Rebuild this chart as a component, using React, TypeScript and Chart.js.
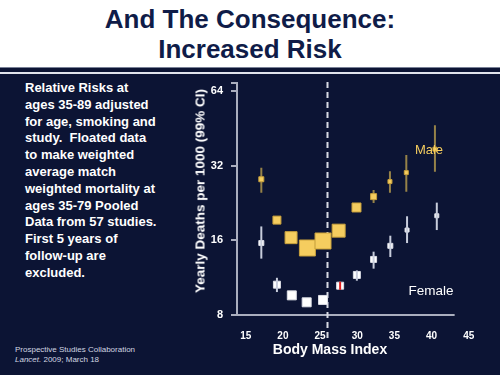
import React, { useEffect, useRef } from "react";
import { Chart, registerables } from "chart.js";

Chart.register(...registerables);

// ---- data ----
const maleBmi = [17.1, 19.2, 21.1, 23.3, 25.4, 27.5, 29.9, 32.2, 34.4, 36.6, 40.45];
const maleDeaths = [28.2, 19.3, 16.4, 14.9, 15.9, 17.5, 21.7, 24.0, 27.6, 30.0, 37.3];
const maleLow = [24.9, null, null, null, null, null, null, 22.6, 24.9, 25.1, 30.2];
const maleHigh = [31.4, null, null, null, null, null, null, 25.5, 30.4, 35.3, 46.6];
const maleSize = [5, 8, 12, 16, 16, 13, 9, 6, 4, 4, 4];

const femaleBmi = [17.1, 19.2, 21.2, 23.2, 25.4, 27.7, 29.95, 32.2, 34.45, 36.7, 40.7];
const femaleDeaths = [15.6, 10.6, 9.6, 9.0, 9.2, 10.5, 11.6, 13.4, 15.2, 17.6, 20.1];
const femaleLow = [13.5, 9.9, null, null, null, 10.1, 11.0, 12.3, 13.7, 15.6, 17.6];
const femaleHigh = [18.2, 11.3, null, null, null, 10.9, 12.1, 14.4, 16.7, 20.0, 22.7];
const femaleSize = [5, 7, 9, 9, 9, 7, 7, 6, 5, 4, 4];
const femaleBarRed = [false, false, false, false, false, true, false, false, false, false, false];

const xTicks = [15, 20, 25, 30, 35, 40, 45];
const yTicks = [8, 16, 32, 64];
const xMin = 13.83;
const xMax = 45.3;
const xAxisEnd = 43.1;
const yMin = 8;
const yMax = 68.9;
const cutoffBmi = 25.9;

const NAVY = "#0c1434";
const GOLD = "rgb(245,205,95)";
const GOLD_BAR = "rgb(150,130,72)";
const WHITE_BAR = "rgb(200,205,220)";
const AXIS = "rgb(170,174,190)";

function errorPoints(xs: number[], lo: (number | null)[], hi: (number | null)[]) {
  const pts: { x: number; y: number | null }[] = [];
  xs.forEach((x, i) => {
    if (lo[i] == null || hi[i] == null) return;
    pts.push({ x, y: lo[i] as number }, { x, y: hi[i] as number }, { x, y: null });
  });
  return pts;
}

function barIndexList(lo: (number | null)[]) {
  const idx: number[] = [];
  lo.forEach((v, i) => {
    if (v != null) idx.push(i);
  });
  return idx;
}

const refLines = {
  id: "refLines",
  beforeDatasetsDraw(chart: any) {
    const { ctx, scales } = chart;
    const x = scales.x;
    const y = scales.y;
    ctx.save();
    // x axis line
    ctx.strokeStyle = AXIS;
    ctx.lineWidth = 2;
    ctx.beginPath();
    ctx.moveTo(x.getPixelForValue(xMin), y.getPixelForValue(yMin));
    ctx.lineTo(x.getPixelForValue(xAxisEnd), y.getPixelForValue(yMin));
    ctx.stroke();
    // dashed cutoff line
    const cx = Math.round(x.getPixelForValue(cutoffBmi)) + 0.5;
    ctx.strokeStyle = "rgb(215,218,228)";
    ctx.lineWidth = 2;
    ctx.setLineDash([6, 4]);
    ctx.beginPath();
    ctx.moveTo(cx, y.getPixelForValue(yMax) - 1);
    ctx.lineTo(cx, y.getPixelForValue(yMin) + 26);
    ctx.stroke();
    ctx.restore();
  },
};

export default function App() {
  const ref = useRef<HTMLCanvasElement | null>(null);

  useEffect(() => {
    document.body.style.margin = "0";
    if (!ref.current) return;
    const femaleBarIdx = barIndexList(femaleLow);
    const chart = new Chart(ref.current, {
      type: "scatter",
      data: {
        datasets: [
          {
            type: "line",
            data: errorPoints(maleBmi, maleLow, maleHigh),
            borderColor: GOLD_BAR,
            borderWidth: 2,
            pointRadius: 0,
            spanGaps: false,
            order: 3,
          } as any,
          {
            type: "line",
            data: errorPoints(femaleBmi, femaleLow, femaleHigh),
            borderColor: WHITE_BAR,
            borderWidth: 2,
            pointRadius: 0,
            spanGaps: false,
            order: 0,
            segment: {
              borderColor: (c: any) => {
                const bi = femaleBarIdx[Math.floor(c.p0DataIndex / 3)];
                return femaleBarRed[bi] ? "rgb(225,30,30)" : WHITE_BAR;
              },
            },
          } as any,
          {
            data: maleBmi.map((x, i) => ({ x, y: maleDeaths[i] })),
            pointStyle: "rect",
            pointRadius: maleSize.map((s) => s / Math.SQRT2),
            backgroundColor: GOLD,
            borderColor: "rgb(200,160,60)",
            borderWidth: 1,
            order: 1,
          },
          {
            data: femaleBmi.map((x, i) => ({ x, y: femaleDeaths[i] })),
            pointStyle: "rect",
            pointRadius: femaleSize.map((s) => s / Math.SQRT2),
            backgroundColor: "#ffffff",
            borderColor: "rgb(220,222,230)",
            borderWidth: 1,
            order: 1,
          },
        ],
      },
      options: {
        animation: false,
        responsive: false,
        maintainAspectRatio: false,
        layout: { padding: { left: 0, top: 83, right: 29, bottom: 0 } },
        plugins: { legend: { display: false }, tooltip: { enabled: false } },
        scales: {
          x: {
            type: "linear",
            min: xMin,
            max: xMax,
            afterFit: (s: any) => {
              s.height = 60;
            },
            afterBuildTicks: (s: any) => {
              s.ticks = xTicks.map((v) => ({ value: v }));
            },
            grid: { display: false },
            border: { display: false },
            ticks: {
              color: "#ffffff",
              padding: 7,
              maxRotation: 0,
              autoSkip: false,
              font: { family: "Arial, Liberation Sans", weight: "bold", size: 10 },
            },
          },
          y: {
            type: "logarithmic",
            min: yMin,
            max: yMax,
            afterFit: (s: any) => {
              s.width = 237;
            },
            afterBuildTicks: (s: any) => {
              s.ticks = [...yTicks, yMax].map((v) => ({ value: v }));
            },
            grid: { drawOnChartArea: false, color: AXIS, tickLength: 6, lineWidth: 2 },
            border: { color: AXIS, width: 2 },
            ticks: {
              color: "#ffffff",
              padding: 8,
              autoSkip: false,
              font: { family: "Arial, Liberation Sans", weight: "bold", size: 11 },
              callback: (v: any) => (yTicks.includes(v) ? String(v) : ""),
            },
          },
        },
      },
      plugins: [refLines],
    } as any);
    return () => chart.destroy();
  }, []);

  const font = "Arial, 'Liberation Sans', sans-serif";
  const abs = (o: React.CSSProperties): React.CSSProperties => ({ position: "absolute", ...o });

  return (
    <div style={{ position: "relative", width: 500, height: 375, overflow: "hidden", background: NAVY, fontFamily: font }}>
      <div style={abs({ left: 0, top: 0, width: 500, height: 67, background: "#ffffff" })} />
      <div style={abs({ left: 0, top: 67, width: 500, height: 1, background: "rgb(120,128,150)" })} />
      <div style={abs({ left: 0, top: 72, width: 500, height: 2, background: "rgb(225,228,236)" })} />
      <div
        style={abs({
          left: 0,
          top: 4,
          width: 500,
          textAlign: "center",
          color: "#0f1c48",
          fontWeight: "bold",
          fontSize: 26,
          lineHeight: "30px",
        })}
      >
        And The Consequence:
        <br />
        Increased Risk
      </div>
      <div
        style={abs({
          left: 25,
          top: 80,
          width: 170,
          color: "#ffffff",
          fontWeight: "bold",
          fontSize: 13,
          lineHeight: "16.8px",
          whiteSpace: "pre",
        })}
      >
        {"Relative Risks at\nages 35-89 adjusted\nfor age, smoking and\nstudy.  Floated data\nto make weighted\naverage match\nweighted mortality at\nages 35-79 Pooled\nData from 57 studies.\nFirst 5 years of\nfollow-up are\nexcluded."}
      </div>
      <div style={abs({ left: 15, top: 345, color: "rgb(210,214,226)", fontSize: 8, lineHeight: "10px" })}>
        Prospective Studies Collaboration
        <br />
        <i>Lancet.</i> 2009; March 18
      </div>
      <canvas ref={ref} width={500} height={375} style={abs({ left: 0, top: 0, width: 500, height: 375 })} />
      <div
        style={abs({
          left: 200,
          top: 191,
          transform: "translate(-50%, -50%) rotate(-90deg)",
          whiteSpace: "nowrap",
          color: "#ffffff",
          fontWeight: "bold",
          fontSize: 13.5,
        })}
      >
        Yearly Deaths per 1000 (99% CI)
      </div>
      <div
        style={abs({
          left: 330,
          top: 349,
          transform: "translate(-50%, -50%)",
          whiteSpace: "nowrap",
          color: "#ffffff",
          fontWeight: "bold",
          fontSize: 14,
        })}
      >
        Body Mass Index
      </div>
      <div style={abs({ left: 429, top: 149, transform: "translate(-50%, -50%)", color: GOLD, fontSize: 13 })}>
        Male
      </div>
      <div style={abs({ left: 431, top: 290, transform: "translate(-50%, -50%)", color: "#ffffff", fontSize: 13.5 })}>
        Female
      </div>
    </div>
  );
}
